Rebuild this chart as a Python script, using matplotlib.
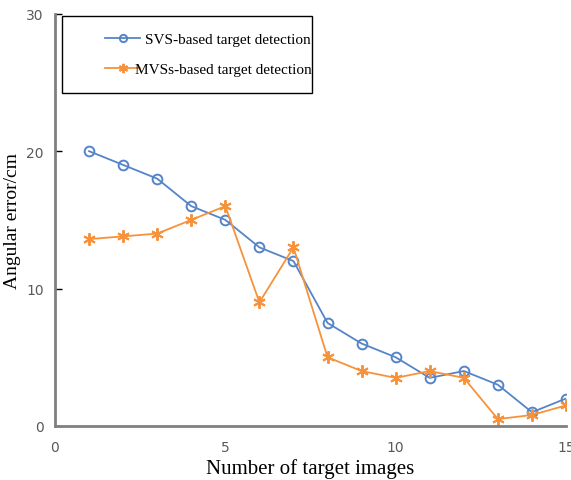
import matplotlib
matplotlib.use("Agg")
import matplotlib.pyplot as plt
from matplotlib.patches import Rectangle
from matplotlib.transforms import ScaledTranslation

images = [1, 2, 3, 4, 5, 6, 7, 8, 9, 10, 11, 12, 13, 14, 15]
svs_error = [20, 19, 18, 16, 15, 13, 12, 7.5, 6, 5, 3.5, 4, 3, 1, 2]
mvs_error = [13.6, 13.8, 14, 15, 16, 9, 13, 5, 4, 3.5, 4, 3.5, 0.5, 0.8, 1.5]

x_ticks = [0, 5, 10, 15]
y_ticks = [0, 10, 20, 30]

blue = "#5585C8"
orange = "#F7923A"
serif = "Liberation Serif"

fig = plt.figure(figsize=(5.71, 4.81), dpi=100)
ax = fig.add_axes([0.0963, 0.1123, 0.895, 0.857])

ax.plot(images, svs_error, "-", color=blue, linewidth=1.3, marker="o",
        markersize=7, markerfacecolor="none", markeredgecolor=blue,
        markeredgewidth=1.4, label="SVS-based target detection")
ax.plot(images, mvs_error, "-", color=orange, linewidth=1.3, marker=(6, 2, 0),
        markersize=9, markeredgecolor=orange, markeredgewidth=1.4,
        label="MVSs-based target detection")

ax.set_xlim(0, 15)
ax.set_ylim(0, 30)
ax.set_xticks(x_ticks)
ax.set_yticks(y_ticks)

for side in ("top", "right"):
    ax.spines[side].set_visible(False)
for side in ("left", "bottom"):
    ax.spines[side].set_color("#808080")
    ax.spines[side].set_linewidth(2)
ax.tick_params(axis="y", direction="in", length=5, width=1, color="black",
               labelsize=10, labelcolor="#595959", pad=8)
ax.tick_params(axis="x", length=0, labelsize=10, labelcolor="#595959", pad=10)

ax.set_xlabel("Number of target images", fontfamily=serif, fontsize=15, labelpad=3)
ax.set_ylabel("Angular error/cm", fontfamily=serif, fontsize=14, labelpad=4)

# legend entries without their own frame; the box is drawn separately
leg = ax.legend(loc="upper left", bbox_to_anchor=(0.1839, 0.9300),
                bbox_transform=fig.transFigure, frameon=False,
                prop={"family": serif, "size": 11}, borderpad=0,
                labelspacing=1.05, handlelength=2.3, handletextpad=0.35,
                borderaxespad=0, markerscale=0.75)
# second label sits a little further left, over its line sample
mvs_text = leg.get_texts()[1]
mvs_text.set_transform(mvs_text.get_transform()
                       + ScaledTranslation(-10 / 100, 0, fig.dpi_scale_trans))

fig.add_artist(Rectangle((0.1086, 0.8046), 0.4378, 0.1601,
                         transform=fig.transFigure, fill=False,
                         edgecolor="black", linewidth=1.0))

fig.savefig("out.png", dpi=100)
